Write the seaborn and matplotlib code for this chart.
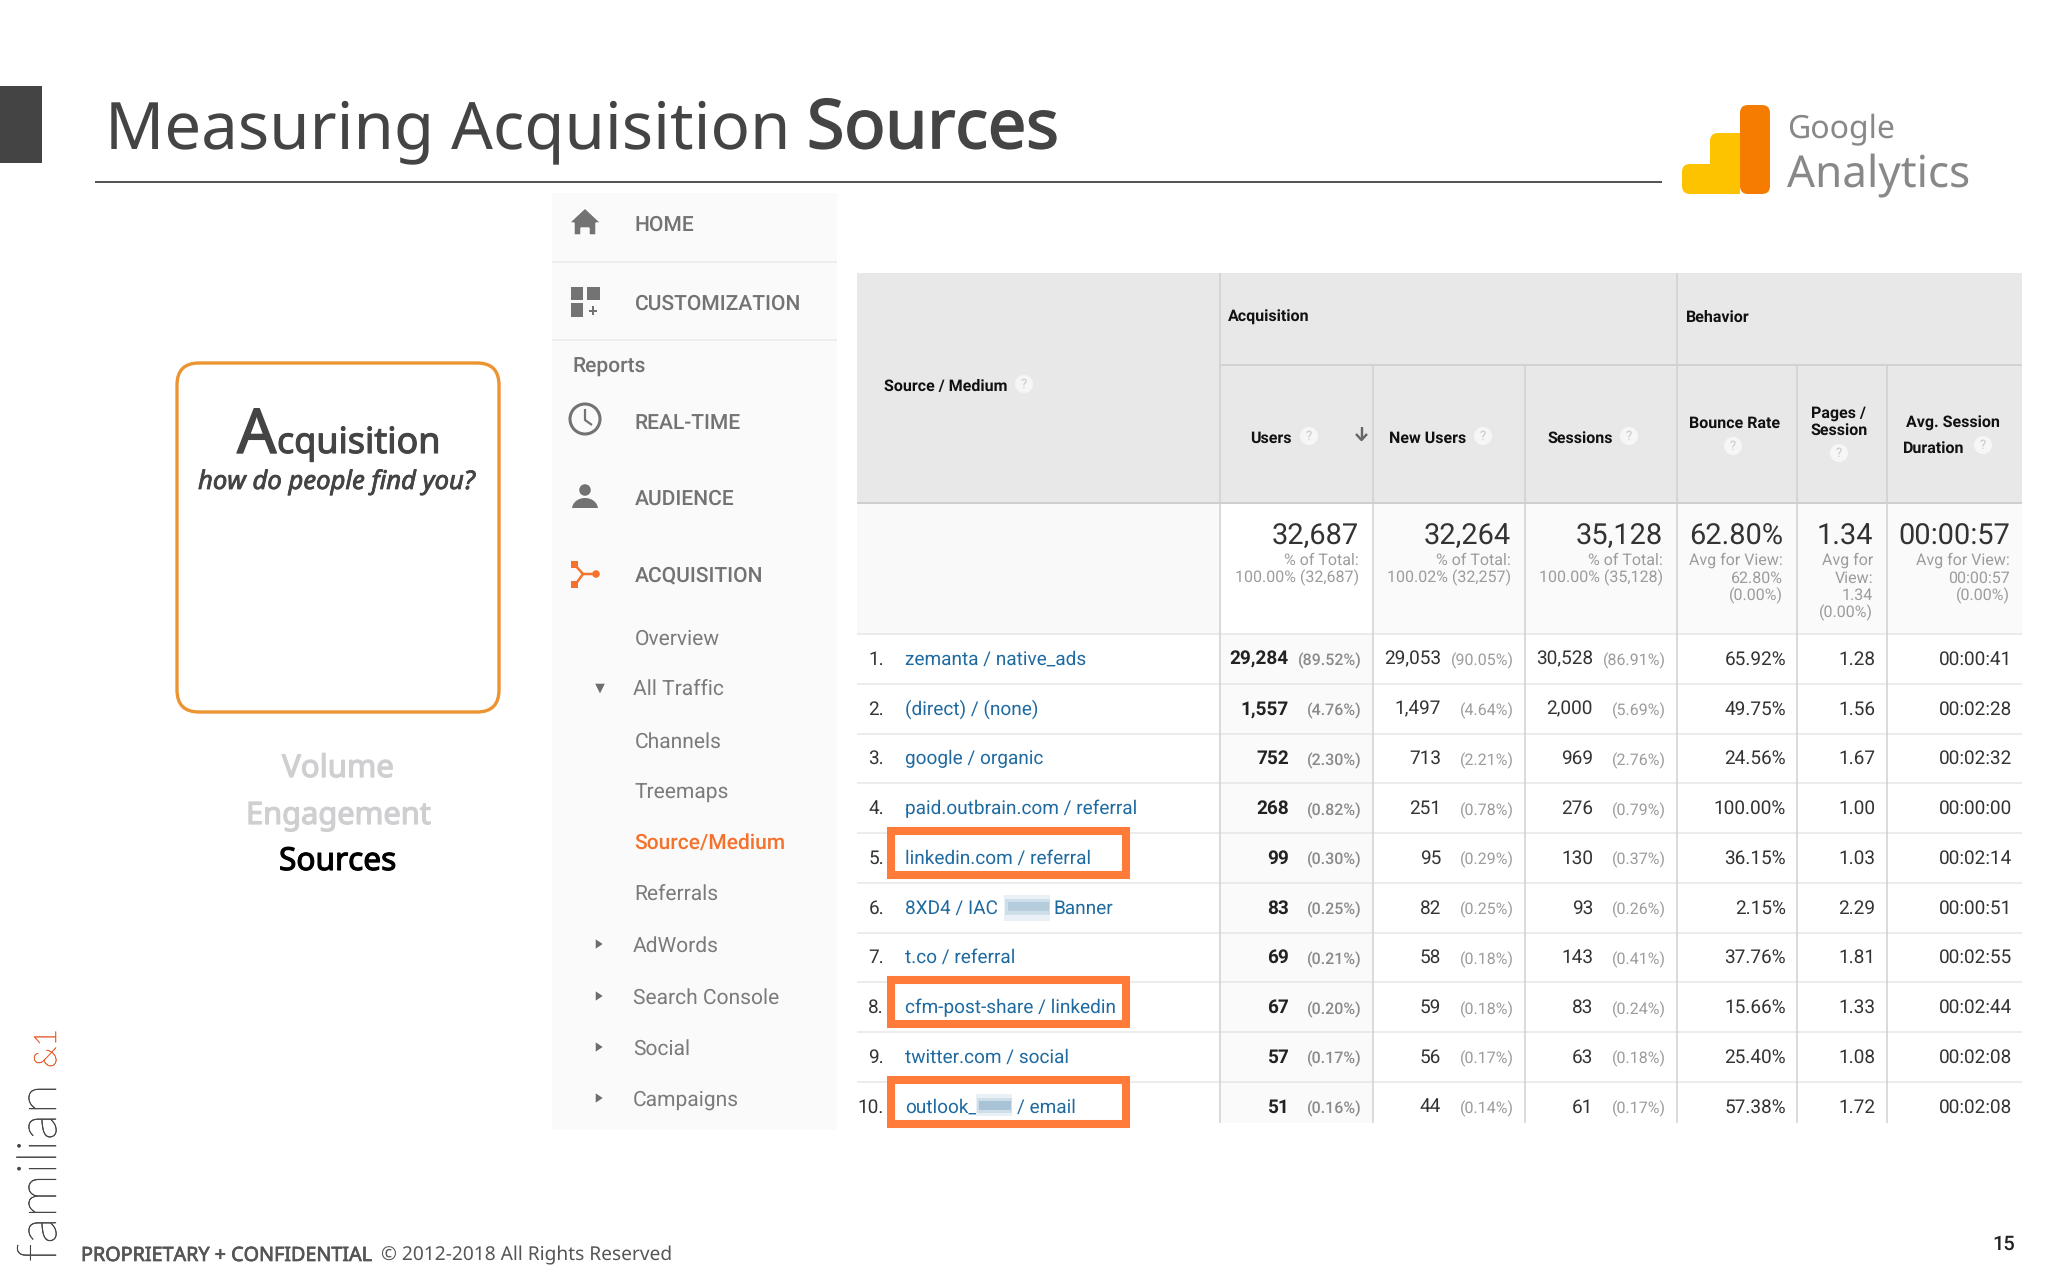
import matplotlib
matplotlib.use("Agg")
import matplotlib.pyplot as plt
import matplotlib.patheffects as pe
import seaborn as sns
from matplotlib.font_manager import FontProperties
from matplotlib.patches import Rectangle, Circle, FancyBboxPatch, Polygon, Ellipse
from matplotlib.textpath import TextPath

# ---------- data ----------
sources = ["zemanta / native_ads", "(direct) / (none)", "google / organic", "paid.outbrain.com / referral",
           "linkedin.com / referral", "8XD4 / IAC", "t.co / referral", "cfm-post-share / linkedin",
           "twitter.com / social", "outlook_"]
users = ["29,284", "1,557", "752", "268", "99", "83", "69", "67", "57", "51"]
users_pct = ["(89.52%)", "(4.76%)", "(2.30%)", "(0.82%)", "(0.30%)", "(0.25%)", "(0.21%)", "(0.20%)", "(0.17%)", "(0.16%)"]
new_users = ["29,053", "1,497", "713", "251", "95", "82", "58", "59", "56", "44"]
new_pct = ["(90.05%)", "(4.64%)", "(2.21%)", "(0.78%)", "(0.29%)", "(0.25%)", "(0.18%)", "(0.18%)", "(0.17%)", "(0.14%)"]
sessions = ["30,528", "2,000", "969", "276", "130", "93", "143", "83", "63", "61"]
sessions_pct = ["(86.91%)", "(5.69%)", "(2.76%)", "(0.79%)", "(0.37%)", "(0.26%)", "(0.41%)", "(0.24%)", "(0.18%)", "(0.17%)"]
bounce = ["65.92%", "49.75%", "24.56%", "100.00%", "36.15%", "2.15%", "37.76%", "15.66%", "25.40%", "57.38%"]
pages = ["1.28", "1.56", "1.67", "1.00", "1.03", "2.29", "1.81", "1.33", "1.08", "1.72"]
duration = ["00:00:41", "00:02:28", "00:02:32", "00:00:00", "00:02:14", "00:00:51", "00:02:55", "00:02:44", "00:02:08", "00:02:08"]
totals = ["32,687", "32,264", "35,128", "62.80%", "1.34", "00:00:57"]
total_notes = [["% of Total:", "100.00% (32,687)"], ["% of Total:", "100.02% (32,257)"],
               ["% of Total:", "100.00% (35,128)"], ["Avg for View:", "62.80%", "(0.00%)"],
               ["Avg for", "View:", "1.34", "(0.00%)"], ["Avg for View:", "00:00:57", "(0.00%)"]]
logo_steps = ["low", "mid", "high"]
logo_heights = [30, 61, 89]
nav_main = ["HOME", "CUSTOMIZATION", "REAL-TIME", "AUDIENCE", "ACQUISITION"]
nav_sub = ["Overview", "All Traffic", "Channels", "Treemaps", "Source/Medium", "Referrals",
           "AdWords", "Search Console", "Social", "Campaigns"]

# ---------- set-up ----------
sns.set_theme(style="white")
plt.rcParams["font.family"] = ["Roboto", "DejaVu Sans"]
plt.rcParams["text.hinting"] = "no_hinting"
plt.rcParams["text.hinting_factor"] = 1
fig = plt.figure(figsize=(20.48, 12.8), dpi=100, facecolor="white")
ax = fig.add_axes([0, 0, 1, 1])
ax.set_xlim(0, 2048)
ax.set_ylim(1280, 0)
ax.axis("off")
HEAD = "Noto Sans"


def fit(s, w, family=HEAD, weight="normal", style="normal"):
    fp = FontProperties(family=family, weight=weight, style=style)
    return 0.985 * 100 * w / TextPath((0, 0), s, size=100, prop=fp).get_extents().width * 0.72


def T(x, y, s, size, color="#333333", ha="left", family="Roboto", weight="normal", stroke=0, **kw):
    t = ax.text(x, y, s, fontsize=size, color=color, ha=ha, va="baseline", family=family, weight=weight, **kw)
    if stroke:
        t.set_path_effects([pe.withStroke(linewidth=stroke, foreground=color)])
    return t


def R(x0, y0, x1, y1, color, z=1, **kw):
    ax.add_patch(Rectangle((x0, y0), x1 - x0, y1 - y0, facecolor=color, edgecolor="none", zorder=z, **kw))


def L(xs, ys, color, px=1.5, z=2):
    ax.plot(xs, ys, color=color, lw=px * 0.72, zorder=z, solid_capstyle="butt")


# ---------- slide chrome ----------
R(0, 86, 42, 163, "#444444")
T(105, 148, "Measuring Acquisition", fit("Measuring Acquisition", 684), "#444444", family=HEAD)
T(807, 148, "Sources", fit("Sources", 249), "#444444", family=HEAD, stroke=1.3)
L([95, 1662], [182, 182], "#555555", 2)

# logo
logo = fig.add_axes([1680 / 2048, 1 - 194 / 1280, 90 / 2048, 89 / 1280])
sns.barplot(x=logo_steps, y=logo_heights, hue=logo_steps, ax=logo, width=1, legend=False,
            palette=["#FDC300", "#FDC300", "#F57C00"], saturation=1)
logo.set_xlim(-0.5, 2.5)
logo.set_ylim(0, 89)
logo.axis("off")
clips = [(1682, 164, 60, 30), (1710, 133, 60, 90), (1740, 105, 30, 89)]
for bar, (cx, cy, cw, ch) in zip(logo.patches, clips):
    bar.set_edgecolor("none")
    bar.set_clip_path(FancyBboxPatch((cx + 8, cy + 8), cw - 16, ch - 16, boxstyle="round,pad=8,rounding_size=8",
                                     transform=ax.transData))
T(1787, 137, "Google", fit("Google", 106), "#888888", family=HEAD)
T(1787, 186, "Analytics", fit("Analytics", 184), "#888888", family=HEAD)

# ---------- left card ----------
ax.add_patch(FancyBboxPatch((199, 385), 278, 305, boxstyle="round,pad=22,rounding_size=22",
                            facecolor="white", edgecolor="#EC9432", lw=2.4, zorder=1))
T(237, 453, "A", 44.5, "#444444", family=HEAD, stroke=1.0)
T(277, 453, "cquisition", fit("cquisition", 161), "#444444", family=HEAD, stroke=0.8)
T(198, 489, "how do people find you?", fit("how do people find you?", 281, style="italic"),
  "#444444", family=HEAD, style="italic", stroke=0.6)
T(282, 777, "Volume", fit("Volume", 112), "#CFCFD2", family=HEAD, stroke=0.9)
T(246, 824, "Engagement", fit("Engagement", 184), "#CFCFD2", family=HEAD, stroke=0.9)
T(279, 870, "Sources", fit("Sources", 116), "#000000", family=HEAD, stroke=0.8)

# ---------- sidebar ----------
R(552, 193, 837, 1130, "#FAFAFA")
L([552, 837], [262, 262], "#EEEEEE", 2)
L([552, 837], [340, 340], "#EEEEEE", 2)
nav_main_y = [223, 302, 421, 497, 573]
nav_size = fit("CUSTOMIZATION", 165, family="Roboto", weight="medium")
for s, y in zip(nav_main, nav_main_y):
    T(634.5, y + 8, s, nav_size, "#737373", weight="medium")
T(572, 373, "Reports", nav_size, "#737373", weight="medium")
nav_sub_y = [637, 688, 740, 791, 842, 893, 944, 996, 1047, 1098]
nav_sub_x = [634.5, 633, 634.5, 634.5, 634.5, 634.5, 633, 633, 633, 633]
for s, x, y in zip(nav_sub, nav_sub_x, nav_sub_y):
    orange = s == "Source/Medium"
    T(x, y + 8, s, nav_size, "#F4722B" if orange else "#7B7B7B", weight="medium" if orange else "normal")
ax.add_patch(Polygon([(594, 683), (606, 683), (600, 695)], facecolor="#6E6E6E", zorder=3))
for y in nav_sub_y[6:]:
    ax.add_patch(Polygon([(595, y - 6), (595, y + 6), (604, y)], facecolor="#6E6E6E", zorder=3))

icon = "#737373"
ax.add_patch(Polygon([(585, 208), (601, 223), (596, 223), (596, 235), (589, 235), (589, 228), (581, 228),
                      (581, 235), (574, 235), (574, 223), (569, 223)], facecolor=icon, zorder=3))
R(571, 287, 583, 300, icon, 3)
R(587, 287, 600, 300, icon, 3)
R(571, 303, 583, 317, icon, 3)
L([593, 593], [306, 315], icon, 2, 3)
L([589, 597], [310.5, 310.5], icon, 2, 3)
ax.add_patch(Circle((585, 419), 15, facecolor="none", edgecolor=icon, lw=2.2, zorder=3))
L([585, 585, 592], [409, 420, 425], icon, 2.2, 3)
ax.add_patch(Circle((585, 490), 6.5, facecolor=icon, zorder=3))
body = Ellipse((585, 509), 26, 22, facecolor=icon, edgecolor="none", zorder=3)
ax.add_patch(body)
body.set_clip_path(Rectangle((570, 495), 30, 13, transform=ax.transData))
acq = "#F4722B"
R(571, 561, 578, 568, acq, 3)
R(571, 581, 578, 588, acq, 3)
ax.add_patch(Circle((596, 574), 4.5, facecolor=acq, zorder=3))
L([575, 583, 575], [565, 574, 585], acq, 2.5, 3)
L([583, 596], [574, 574], acq, 2.5, 3)

# ---------- table ----------
LEFT, RIGHT = 857, 2022
cols = [1220, 1373, 1525, 1677, 1797, 1887]
ROW0, ROWH = 634, 49.75
BOTTOM = 1123
R(LEFT, 273, RIGHT, 503, "#E8E8E9")
R(LEFT, 503, 1220, ROW0, "#F9F9F9")
R(1373, 503, RIGHT, ROW0, "#FAFAFA")
R(1220, ROW0, 1373, BOTTOM, "#FAFAFA")
L([1220, RIGHT], [365, 365], "#D2D2D2", 2)
L([LEFT, RIGHT], [503, 503], "#CFCFCF", 2)
for i in range(10):
    yy = ROW0 + i * ROWH
    L([LEFT, RIGHT], [yy, yy], "#E6E6E6", 1.5)
for x, top in zip(cols, [273, 365, 365, 273, 365, 365]):
    L([x, x], [top, BOTTOM], "#D0D0D0", 1.5)

hsize = fit("Source / Medium", 123, family="Roboto", weight="bold")
headers = [(884, 390, "Source / Medium"), (1228, 321.5, "Acquisition"), (1250, 442.5, "Users"), (1389, 442.5, "New Users"),
           (1547, 442.5, "Sessions"), (1686, 321.5, "Behavior"), (1689, 427.5, "Bounce Rate"), (1811, 417.5, "Pages /"),
           (1810, 434.5, "Session"), (1906, 427.5, "Avg. Session"), (1903, 452.5, "Duration")]
for x, y, s in headers:
    T(x, y, s, hsize, "#111111", weight="bold")
for x, y in [(1024, 384), (1309, 436), (1483, 436), (1629, 436), (1733, 446), (1839, 453), (1983, 445)]:
    ax.add_patch(Circle((x, y), 9, facecolor="#F6F6F6", edgecolor="none", zorder=3))
    ax.text(x, y, "?", fontsize=9, color="#C8C8C8", ha="center", va="center", zorder=4, family="Roboto")
L([1361.5, 1361.5], [427, 439], "#666666", 2.4, 3)
L([1356, 1361.5, 1367], [434, 440, 434], "#666666", 2.4, 3)

rights_big = [1359, 1511, 1663, 1783, 1873, 2010]
big_size = fit("32,687", 86, family="Roboto")
note_size = fit("100.00% (32,687)", 122, family="Roboto")
for x, big, notes in zip(rights_big, totals, total_notes):
    T(x, 544.5, big, big_size, "#333333", ha="right")
    for j, n in enumerate(notes):
        T(x, 565 + j * 17.6, n, note_size, "#9C9C9C", ha="right")

# highlight frames
for r in (4, 7, 9):
    top = ROW0 + r * ROWH
    ax.add_patch(Rectangle((891, top - 2), 235, 44, facecolor="white", edgecolor="#FF7B3A", lw=5.8, zorder=5))

link = "#1F6AA0"
row_size = fit("linkedin.com / referral", 185, family="Roboto")
bold_size = row_size
pct_size = fit("(0.30%)", 54, family="Roboto")
for i in range(10):
    base = ROW0 + i * ROWH + 30.7
    T(884, base, f"{i + 1}.", row_size, "#333333", ha="right", zorder=6)
    T(905, base, sources[i], row_size, link, zorder=6)
    T(1289, base, users[i], bold_size, "#222222", ha="right", weight="bold", zorder=6)
    T(1362, base + 1, users_pct[i], pct_size, "#8A8A8A", ha="right", weight="medium", zorder=6)
    T(1441, base, new_users[i], row_size, "#333333", ha="right", zorder=6)
    T(1514, base + 1, new_pct[i], pct_size, "#9C9C9C", ha="right", zorder=6)
    T(1593, base, sessions[i], row_size, "#333333", ha="right", zorder=6)
    T(1666, base + 1, sessions_pct[i], pct_size, "#9C9C9C", ha="right", zorder=6)
    T(1786, base, bounce[i], row_size, "#333333", ha="right", zorder=6)
    T(1875, base, pages[i], row_size, "#333333", ha="right", zorder=6)
    T(2012, base, duration[i], row_size, "#333333", ha="right", zorder=6)

# blurred parts of two source names
base6 = ROW0 + 5 * ROWH + 30.7
T(1053, base6, "Banner", row_size, link, zorder=6)
R(1004, 895, 1050, 921, "#EAF1F6", 6)
R(1005, 899, 1050, 915, "#CFDFEA", 7)
R(1008, 902, 1049, 911, "#B5CCDD", 8)
base10 = ROW0 + 9 * ROWH + 30.7
T(1017, base10, "/ email", row_size, link, zorder=6)
R(976, 1094, 1012, 1116, "#EAF1F6", 6)
R(977, 1098, 1012, 1113, "#CFDFEA", 7)
R(979, 1101, 1011, 1110, "#A9C3D6", 8)

# ---------- footer ----------
T(81, 1261, "PROPRIETARY + CONFIDENTIAL", fit("PROPRIETARY + CONFIDENTIAL", 293), "#555555", family=HEAD, stroke=0.5)
T(381, 1260.5, "© 2012-2018 All Rights Reserved", fit("© 2012-2018 All Rights Reserved", 293), "#555555", family=HEAD)
T(1992, 1250, "15", fit("15", 21, family="Roboto", weight="medium"), "#222222", weight="medium")
T(56, 1262, "familian", fit("familian", 174, family="Lato", weight="light"), "#444444", family="Lato", weight="light",
  rotation=90, rotation_mode="anchor", stroke=0.4)
T(56, 1068, "&1", fit("&1", 35, family="Lato", weight="light"), "#E8612E", family="Lato", weight="light",
  rotation=90, rotation_mode="anchor", stroke=0.4)

fig.savefig("out.png", dpi=100, facecolor="white")
